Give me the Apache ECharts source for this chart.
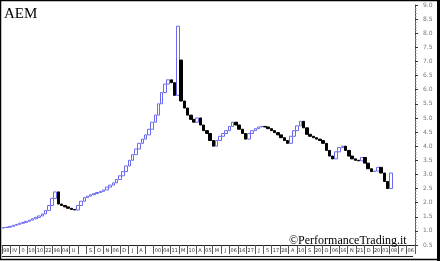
<!DOCTYPE html>
<html><head><meta charset="utf-8">
<script src="https://cdn.jsdelivr.net/npm/echarts@6/dist/echarts.min.js"></script>
<style>html,body{margin:0;padding:0;background:#fff}#c{width:440px;height:261px}</style>
</head><body><div id="c"></div>
<script>
// ---- DATA ----
const title = 'AEM';
const credit = '©PerformanceTrading.it';
const firstOpen = 1.10;
const closes = [
 1.12,1.13,1.16,1.20,1.23,1.27,1.30,1.34,1.38,1.43,
 1.48,1.53,1.60,1.72,1.90,2.15,2.38,1.95,1.90,1.85,
 1.80,1.76,1.74,1.90,2.05,2.18,2.23,2.28,2.32,2.36,
 2.40,2.45,2.55,2.62,2.70,2.82,2.95,3.10,3.30,3.50,
 3.70,3.90,4.10,4.25,4.40,4.60,4.85,5.10,5.50,5.90,
 6.20,6.35,6.25,5.80,8.25,5.60,5.35,5.10,4.95,4.85,
 5.00,4.75,4.55,4.45,4.20,4.00,4.20,4.35,4.45,4.55,
 4.70,4.85,4.75,4.60,4.45,4.25,4.45,4.55,4.62,4.68,
 4.70,4.68,4.62,4.55,4.48,4.40,4.30,4.20,4.10,4.35,
 4.55,4.72,4.88,4.65,4.42,4.35,4.30,4.25,4.20,4.10,
 3.85,3.65,3.55,3.80,3.95,4.00,3.85,3.65,3.55,3.50,
 3.48,3.60,3.40,3.20,3.10,3.12,3.25,3.05,2.75,2.50,
 3.05
];
const openOverrides = {55: 7.05};
const emptySlots = 7;
const xTickLabels = ['98','IV','0','10','10','22','98','04','U','','S','O','N','06','D','J','A','','00','04','11','M','10','A','05','M','J',
 '06','16','27','J','5','17','28','A','10','S','20','O','06','16','N','21','D','20','01','08','F','06'];
const yMin = 0.5, yMax = 9.0, yStep = 0.5;

// ---- BUILD ----
const candles = closes.map((c, i) => {
  const o = (i in openOverrides) ? openOverrides[i] : (i === 0 ? firstOpen : closes[i-1]);
  return [o, c, Math.min(o, c), Math.max(o, c)];
});
for (let k = 0; k < emptySlots; k++) candles.push('-');
const categories = candles.map((_, i) => String(i));

const chart = echarts.init(document.getElementById('c'), null, {renderer: 'canvas'});
chart.setOption({
  animation: false,
  backgroundColor: '#fff',
  grid: {left: 2, right: 25, top: 5, bottom: 16, containLabel: false},
  xAxis: [
    {type: 'category', data: categories, show: false, boundaryGap: true},
    {type: 'category', data: xTickLabels, position: 'bottom', boundaryGap: true,
     axisLine: {show: true, lineStyle: {color: '#222', width: 1}},
     axisTick: {show: true, length: 9, interval: 0, lineStyle: {color: '#555'}},
     axisLabel: {show: true, interval: 0, fontSize: 5, color: '#333', margin: 3, fontFamily: 'DejaVu Sans'},
     splitLine: {show: false}}
  ],
  yAxis: {
    type: 'value', position: 'right', min: yMin, max: yMax, interval: yStep,
    axisLine: {show: true, lineStyle: {color: '#555'}},
    axisTick: {show: true, length: 3, lineStyle: {color: '#333'}},
    minorTick: {show: true, splitNumber: 5, length: 1.5, lineStyle: {color: '#888'}},
    axisLabel: {fontSize: 6, color: '#777', margin: 8, formatter: v => v.toFixed(1), fontFamily: 'DejaVu Sans'},
    splitLine: {show: false}
  },
  series: [{
    type: 'candlestick', xAxisIndex: 0, data: candles, barWidth: 3,
    itemStyle: {color: '#ffffff', color0: '#000000', borderColor: '#6a6af2', borderColor0: '#000000', borderWidth: 1}
  }],
  graphic: [
    {type: 'text', left: 4, top: 7, style: {text: title, font: '15px "Liberation Serif"', fill: '#000'}},
    {type: 'text', left: 289, top: 235, style: {text: credit, font: '12px "Liberation Serif"', fill: '#000'}},
    {type: 'line', shape: {x1: 2, y1: 256.5, x2: 413, y2: 256.5}, style: {stroke: '#222', lineWidth: 1}},
    {type: 'rect', shape: {x: 0.5, y: 0.5, width: 438, height: 259}, style: {fill: 'none', stroke: '#000', lineWidth: 1.5}},
    {type: 'line', shape: {x1: 438.5, y1: 0, x2: 438.5, y2: 261}, style: {stroke: '#000', lineWidth: 3}}
  ]
});
</script></body></html>
